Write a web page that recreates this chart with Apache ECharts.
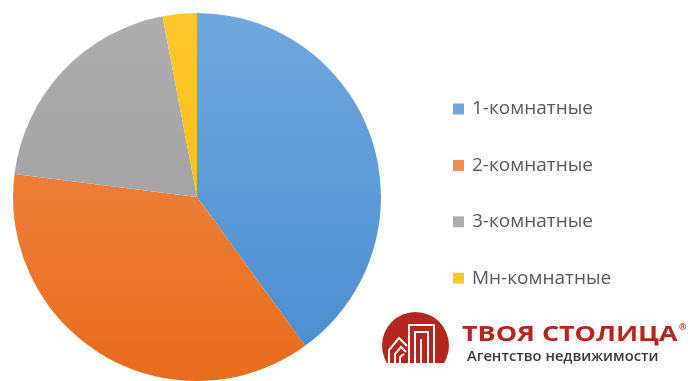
<!DOCTYPE html>
<html>
<head>
<meta charset="utf-8">
<script src="https://cdn.jsdelivr.net/npm/echarts@6/dist/echarts.min.js"></script>
<style>
  html, body { margin: 0; padding: 0; background: #ffffff; }
  #chart { width: 690px; height: 381px; }
</style>
</head>
<body>
<div id="chart"></div>
<script>
// Apartment structure by number of rooms (share, %)
const categories = ['1-комнатные', '2-комнатные', '3-комнатные', 'Мн-комнатные'];
const shares = [40, 37, 20, 3];
const colorsTop = ['#6EA8DE', '#F18C4F', '#ADADAD', '#FFC72E'];
const colorsBottom = ['#4A8CD0', '#E86C1B', '#9B9B9B', '#F5B800'];

const brandTitle = 'ТВОЯ СТОЛИЦА';
const brandSubtitle = 'Агентство недвижимости';

function vGradient(top, bottom) {
  return new echarts.graphic.LinearGradient(0, 13, 0, 381, [
    { offset: 0, color: top },
    { offset: 1, color: bottom }
  ], true);
}

const chart = echarts.init(document.getElementById('chart'), null, { renderer: 'canvas' });

const pieData = categories.map((name, i) => ({
  name: name,
  value: shares[i],
  itemStyle: { color: vGradient(colorsTop[i], colorsBottom[i]) }
}));

const red = '#B5261E';
const white = '#ffffff';
const lineStyle = { stroke: white, lineWidth: 2, fill: null };

chart.setOption({
  animation: false,
  color: ['#5B9BD5', '#ED7D31', '#A5A5A5', '#FFC000'],
  legend: {
    orient: 'vertical',
    left: 453,
    top: 99.5,
    padding: 0,
    itemWidth: 11,
    itemHeight: 11,
    itemGap: 37.4,
    icon: 'rect',
    textStyle: {
      color: '#595959',
      fontSize: 19,
      fontFamily: '"Open Sans", Lato, sans-serif',
      lineHeight: 17,
      padding: [0, 0, 0, 3]
    },
    data: categories
  },
  series: [{
    type: 'pie',
    center: [197, 197],
    radius: [0, 184],
    startAngle: 90,
    clockwise: true,
    label: { show: false },
    labelLine: { show: false },
    emphasis: { disabled: true },
    itemStyle: { borderWidth: 0 },
    data: pieData
  }],
  graphic: [
    {
      type: 'group',
      children: [
        // red round emblem, flat at the bottom
        {
          type: 'circle',
          shape: { cx: 415.5, cy: 345.5, r: 33.5 },
          clipPath: { type: 'rect', shape: { x: 380, y: 310, width: 72, height: 53 } },
          style: { fill: red }
        },
        // buildings drawn in white lines
        { type: 'polyline', shape: { points: [[409, 363], [409, 325], [434, 325], [434, 363]] }, style: lineStyle },
        { type: 'polyline', shape: { points: [[415, 363], [415, 332], [428, 332], [428, 363]] }, style: lineStyle },
        { type: 'polyline', shape: { points: [[421, 363], [421, 339]] }, style: lineStyle },
        { type: 'polyline', shape: { points: [[389, 363], [389, 350], [399, 338], [407, 346]] }, style: lineStyle },
        { type: 'polyline', shape: { points: [[395, 363], [395, 354], [401, 347], [406, 352]] }, style: lineStyle },
        { type: 'polyline', shape: { points: [[400, 363], [400, 357], [404, 354]] }, style: lineStyle },
        // brand name, stretched wide
        {
          type: 'text',
          x: 462, y: 325,
          scaleX: 1.28,
          style: {
            text: brandTitle,
            fill: red,
            font: 'bold 21px "Open Sans", sans-serif',
            textVerticalAlign: 'top'
          }
        },
        {
          type: 'text',
          x: 679, y: 323,
          style: {
            text: '®',
            fill: red,
            font: 'bold 9px "Open Sans", sans-serif',
            textVerticalAlign: 'top'
          }
        },
        {
          type: 'text',
          x: 467, y: 350,
          scaleX: 1.05,
          style: {
            text: brandSubtitle,
            fill: '#3A3A3A',
            font: '600 14px "Open Sans", sans-serif',
            textVerticalAlign: 'top'
          }
        }
      ]
    }
  ]
});
</script>
</body>
</html>
